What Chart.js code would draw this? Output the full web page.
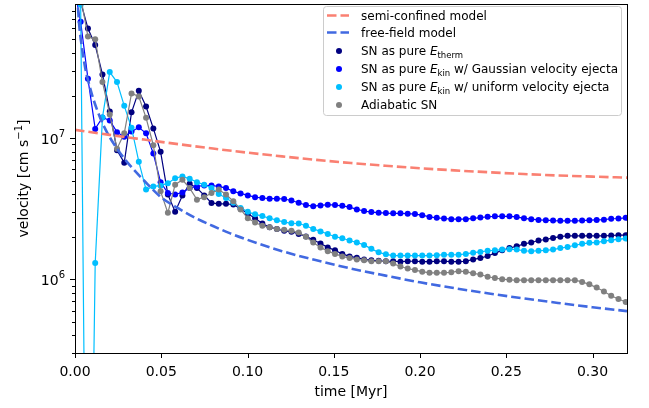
<!DOCTYPE html>
<html>
<head>
<meta charset="utf-8">
<style>
  html, body { margin: 0; padding: 0; background: #fff; }
  canvas { display: block; }
</style>
</head>
<body>
<canvas id="velocityChart" width="649" height="408"></canvas>
<script src="https://cdn.jsdelivr.net/npm/chart.js@4.4.0/dist/chart.umd.min.js"></script>
<script>
// snapshot times [Myr]
const times = [
  -0.00093, 0.00328, 0.00750, 0.01171, 0.01592, 0.02014, 0.02435, 0.02856, 0.03277, 0.03699,
  0.04120, 0.04541, 0.04963, 0.05384, 0.05805, 0.06227, 0.06648, 0.07069, 0.07490, 0.07912,
  0.08333, 0.08754, 0.09176, 0.09597, 0.10018, 0.10440, 0.10861, 0.11282, 0.11703, 0.12125,
  0.12546, 0.12967, 0.13389, 0.13810, 0.14231, 0.14653, 0.15074, 0.15495, 0.15916, 0.16338,
  0.16759, 0.17180, 0.17602, 0.18023, 0.18444, 0.18866, 0.19287, 0.19708, 0.20129, 0.20551,
  0.20972, 0.21393, 0.21815, 0.22236, 0.22657, 0.23079, 0.23500, 0.23921, 0.24342, 0.24764,
  0.25185, 0.25606, 0.26028, 0.26449, 0.26870, 0.27292, 0.27713, 0.28134, 0.28555, 0.28977,
  0.29398, 0.29819, 0.30241, 0.30662, 0.31083, 0.31505, 0.31926
];

// SN as pure E_therm
const thermV = [
  2.5e8, 9.2e7, 5.97e7, 4.56e7, 2.82e7, 1.54e7, 8.2e6, 6.69e6, 1.52e7, 2.16e7,
  1.67e7, 1.17e7, 7.98e6, 3.98e6, 3.0e6, 3.92e6, 4.74e6, 4.42e6, 3.92e6, 3.47e6,
  3.42e6, 3.42e6, 3.38e6, 3.15e6, 2.91e6, 2.70e6, 2.48e6, 2.33e6, 2.27e6, 2.20e6,
  2.17e6, 2.09e6, 2.01e6, 1.90e6, 1.79e6, 1.68e6, 1.60e6, 1.51e6, 1.45e6, 1.42e6,
  1.38e6, 1.36e6, 1.35e6, 1.34e6, 1.34e6, 1.33e6, 1.34e6, 1.34e6, 1.33e6, 1.33e6,
  1.34e6, 1.34e6, 1.33e6, 1.33e6, 1.34e6, 1.38e6, 1.41e6, 1.46e6, 1.53e6, 1.60e6,
  1.66e6, 1.71e6, 1.78e6, 1.82e6, 1.88e6, 1.91e6, 1.96e6, 2.00e6, 2.03e6, 2.03e6,
  2.03e6, 2.03e6, 2.03e6, 2.03e6, 2.04e6, 2.05e6, 2.05e6
];

// SN as pure E_kin, Gaussian velocity ejecta
const gaussV = [
  1.25e8, 6.66e7, 2.63e7, 1.16e7, 1.40e7, 1.33e7, 1.10e7, 1.02e7, 1.11e7, 1.19e7,
  1.08e7, 7.77e6, 4.87e6, 4.08e6, 3.98e6, 4.12e6, 4.42e6, 4.54e6, 4.61e6, 4.61e6,
  4.54e6, 4.42e6, 4.19e6, 4.05e6, 3.92e6, 3.81e6, 3.76e6, 3.72e6, 3.72e6, 3.70e6,
  3.61e6, 3.48e6, 3.35e6, 3.29e6, 3.33e6, 3.37e6, 3.35e6, 3.31e6, 3.24e6, 3.12e6,
  3.04e6, 2.99e6, 2.96e6, 2.94e6, 2.93e6, 2.93e6, 2.91e6, 2.89e6, 2.84e6, 2.76e6,
  2.72e6, 2.69e6, 2.66e6, 2.66e6, 2.66e6, 2.70e6, 2.73e6, 2.77e6, 2.79e6, 2.79e6,
  2.79e6, 2.76e6, 2.70e6, 2.66e6, 2.63e6, 2.62e6, 2.60e6, 2.59e6, 2.59e6, 2.59e6,
  2.60e6, 2.62e6, 2.63e6, 2.64e6, 2.68e6, 2.69e6, 2.72e6
];

// SN as pure E_kin, uniform velocity ejecta
const uniformV = [
  3e8, 8.8e7, 300, 1.3e6, 1.40e7, 2.93e7, 2.49e7, 1.69e7, 1.18e7, 6.80e6,
  4.31e6, 4.54e6, 4.60e6, 4.79e6, 5.19e6, 5.34e6, 5.14e6, 4.87e6, 4.67e6, 4.42e6,
  4.01e6, 3.76e6, 3.48e6, 3.20e6, 3.00e6, 2.88e6, 2.80e6, 2.70e6, 2.62e6, 2.54e6,
  2.49e6, 2.48e6, 2.39e6, 2.27e6, 2.18e6, 2.09e6, 2.00e6, 1.95e6, 1.88e6, 1.82e6,
  1.75e6, 1.64e6, 1.55e6, 1.50e6, 1.47e6, 1.47e6, 1.47e6, 1.47e6, 1.47e6, 1.47e6,
  1.48e6, 1.49e6, 1.49e6, 1.49e6, 1.51e6, 1.54e6, 1.56e6, 1.59e6, 1.60e6, 1.62e6,
  1.63e6, 1.62e6, 1.59e6, 1.58e6, 1.59e6, 1.60e6, 1.62e6, 1.66e6, 1.69e6, 1.74e6,
  1.78e6, 1.81e6, 1.82e6, 1.86e6, 1.89e6, 1.92e6, 1.94e6
];

// Adiabatic SN
const adiabaticV = [
  2.5e8, 1.0e8, 5.23e7, 5.0e7, 2.49e7, 1.47e7, 8.41e6, 1.08e7, 2.07e7, 1.97e7,
  1.39e7, 8.89e6, 4.19e6, 2.95e6, 4.67e6, 5.06e6, 4.42e6, 3.66e6, 3.81e6, 4.08e6,
  4.31e6, 3.98e6, 3.57e6, 3.12e6, 2.70e6, 2.52e6, 2.39e6, 2.33e6, 2.27e6, 2.24e6,
  2.20e6, 2.14e6, 2.00e6, 1.82e6, 1.68e6, 1.58e6, 1.51e6, 1.45e6, 1.41e6, 1.38e6,
  1.36e6, 1.34e6, 1.34e6, 1.34e6, 1.29e6, 1.23e6, 1.19e6, 1.16e6, 1.13e6, 1.11e6,
  1.11e6, 1.11e6, 1.12e6, 1.14e6, 1.13e6, 1.10e6, 1.08e6, 1.04e6, 1.02e6, 1.00e6,
  9.9e5, 9.84e5, 9.84e5, 9.84e5, 9.84e5, 9.84e5, 9.84e5, 9.84e5, 9.84e5, 9.84e5,
  9.57e5, 9.19e5, 8.72e5, 8.18e5, 7.64e5, 7.24e5, 6.89e5
];

// analytic models
const semiT = [0, 0.02, 0.04, 0.06, 0.08, 0.10, 0.12, 0.14, 0.16, 0.18, 0.20, 0.22, 0.24, 0.26, 0.28, 0.30, 0.32];
const semiV = [1.143e7, 1.053e7, 9.75e6, 9.04e6, 8.42e6, 7.88e6, 7.41e6, 7.00e6, 6.65e6, 6.36e6, 6.11e6, 5.90e6, 5.72e6, 5.56e6, 5.43e6, 5.33e6, 5.24e6];
const freeT = [0.001, 0.0015, 0.0025, 0.004, 0.006, 0.008, 0.010, 0.013, 0.016, 0.020, 0.025, 0.030, 0.035, 0.040,
  0.05, 0.06, 0.07, 0.08, 0.09, 0.10, 0.12, 0.14, 0.16, 0.18, 0.20, 0.22, 0.24, 0.26, 0.28, 0.30, 0.32];
const freeV = [1.3e8, 9.5e7, 6.2e7, 4.4e7, 3.1e7, 2.45e7, 2.0e7, 1.56e7, 1.27e7, 1.02e7, 8.2e6, 6.8e6, 5.8e6, 5.0e6,
  3.8e6, 3.17e6, 2.71e6, 2.38e6, 2.11e6, 1.90e6, 1.58e6, 1.36e6, 1.19e6, 1.06e6, 9.5e5, 8.64e5, 7.92e5, 7.31e5, 6.79e5, 6.33e5, 5.94e5];

const xTicks = [0, 0.05, 0.10, 0.15, 0.20, 0.25, 0.30];
const yMajor = [1e6, 1e7];
const yMinor = [3e5, 4e5, 5e5, 6e5, 7e5, 8e5, 9e5, 2e6, 3e6, 4e6, 5e6, 6e6, 7e6, 8e6, 9e6, 2e7, 3e7, 4e7, 5e7, 6e7, 7e7, 8e7];

const FONT = '"DejaVu Sans", sans-serif';
const colors = { semi: '#fa8072', free: '#4169e1', therm: '#000080', gauss: '#0000ff', uniform: '#00bfff', adiabatic: '#808080' };
const DASH = [9.5, 4];

const pts = (xs, ys) => xs.map((x, i) => ({ x, y: ys[i] }));

const simSet = (label, color, ys, order) => ({
  label, data: pts(times, ys), order,
  borderColor: color, backgroundColor: color, borderWidth: 1.2,
  pointRadius: 3, pointBorderWidth: 0, pointBackgroundColor: color,
  tension: 0, clip: 0
});

const modelSet = (label, color, xs, ys, order) => ({
  label, data: pts(xs, ys), order,
  borderColor: color, borderWidth: 2.6, borderDash: DASH, borderCapStyle: 'butt',
  pointRadius: 0, cubicInterpolationMode: 'monotone', clip: 0
});

function drawParts(ctx, parts, x, y) {
  parts.forEach(p => {
    ctx.font = p.font;
    ctx.fillText(p.text, x, y + (p.dy || 0));
    x += ctx.measureText(p.text).width;
  });
  return x;
}

const decorations = {
  id: 'decorations',
  afterDraw(chart) {
    const { ctx, chartArea: a, scales: { x, y } } = chart;
    ctx.save();
    ctx.fillStyle = '#000';
    ctx.strokeStyle = '#000';
    ctx.lineWidth = 1;

    // frame
    ctx.strokeRect(a.left + 0.5, a.top + 0.5, a.right - a.left, a.bottom - a.top);

    // ticks
    ctx.beginPath();
    xTicks.forEach(v => {
      const px = Math.round(x.getPixelForValue(v)) + 0.5;
      ctx.moveTo(px, a.bottom); ctx.lineTo(px, a.bottom + 5);
    });
    yMajor.forEach(v => {
      const py = Math.round(y.getPixelForValue(v)) + 0.5;
      ctx.moveTo(a.left - 5, py); ctx.lineTo(a.left, py);
    });
    yMinor.forEach(v => {
      const py = Math.round(y.getPixelForValue(v)) + 0.5;
      ctx.moveTo(a.left - 3, py); ctx.lineTo(a.left, py);
    });
    ctx.stroke();

    // x tick labels
    ctx.font = '14px ' + FONT;
    ctx.textAlign = 'center';
    ctx.textBaseline = 'alphabetic';
    xTicks.forEach(v => ctx.fillText(v.toFixed(2), x.getPixelForValue(v), 375.5));
    ctx.fillText('time [Myr]', (a.left + a.right) / 2, 395.5);

    // y tick labels 10^n
    ctx.textAlign = 'left';
    yMajor.forEach(v => {
      const py = y.getPixelForValue(v);
      const exp = String(Math.round(Math.log10(v)));
      ctx.font = '14px ' + FONT;
      const w1 = ctx.measureText('10').width;
      ctx.font = '10px ' + FONT;
      const w2 = ctx.measureText(exp).width;
      const x0 = a.left - 10 - w1 - w2;
      ctx.font = '14px ' + FONT;
      ctx.fillText('10', x0, py + 5.5);
      ctx.font = '10px ' + FONT;
      ctx.fillText(exp, x0 + w1, py - 1);
    });

    // y axis title
    ctx.save();
    ctx.translate(28, (a.top + a.bottom) / 2);
    ctx.rotate(-Math.PI / 2);
    const yParts = [
      { text: 'velocity [cm s', font: '14px ' + FONT },
      { text: '\u22121', font: '10px ' + FONT, dy: -6 },
      { text: ']', font: '14px ' + FONT }
    ];
    let total = 0;
    yParts.forEach(p => { ctx.font = p.font; total += ctx.measureText(p.text).width; });
    drawParts(ctx, yParts, -total / 2, 0);
    ctx.restore();

    // legend
    ctx.beginPath();
    ctx.roundRect(323.5, 6.5, 298, 109, 3);
    ctx.fillStyle = 'rgba(255,255,255,0.8)';
    ctx.fill();
    ctx.strokeStyle = '#cccccc';
    ctx.stroke();

    const F = '12px ' + FONT;
    const FI = 'italic 12px ' + FONT;
    const FS = '8.5px ' + FONT;
    const rows = [
      { y: 15.5, color: colors.semi, dash: true, parts: [{ text: 'semi-confined model', font: F }] },
      { y: 32.5, color: colors.free, dash: true, parts: [{ text: 'free-field model', font: F }] },
      { y: 51, color: colors.therm, parts: [{ text: 'SN as pure ', font: F }, { text: 'E', font: FI }, { text: 'therm', font: FS, dy: 2.5 }] },
      { y: 69, color: colors.gauss, parts: [{ text: 'SN as pure ', font: F }, { text: 'E', font: FI }, { text: 'kin', font: FS, dy: 2.5 }, { text: ' w/ Gaussian velocity ejecta', font: F }] },
      { y: 87, color: colors.uniform, parts: [{ text: 'SN as pure ', font: F }, { text: 'E', font: FI }, { text: 'kin', font: FS, dy: 2.5 }, { text: ' w/ uniform velocity ejecta', font: F }] },
      { y: 105, color: colors.adiabatic, parts: [{ text: 'Adiabatic SN', font: F }] }
    ];
    rows.forEach(r => {
      if (r.dash) {
        ctx.save();
        ctx.strokeStyle = r.color;
        ctx.lineWidth = 2.6;
        ctx.setLineDash(DASH);
        ctx.beginPath();
        ctx.moveTo(327, r.y); ctx.lineTo(349, r.y);
        ctx.stroke();
        ctx.restore();
      } else {
        ctx.fillStyle = r.color;
        ctx.beginPath();
        ctx.arc(339, r.y, 3, 0, Math.PI * 2);
        ctx.fill();
      }
      ctx.fillStyle = '#000';
      drawParts(ctx, r.parts, 361, r.y + 4.3);
    });
    ctx.restore();
  }
};

new Chart(document.getElementById('velocityChart'), {
  type: 'line',
  data: {
    datasets: [
      modelSet('semi-confined model', colors.semi, semiT, semiV, 0),
      modelSet('free-field model', colors.free, freeT, freeV, 1),
      simSet('Adiabatic SN', colors.adiabatic, adiabaticV, 2),
      simSet('SN as pure E_kin w/ uniform velocity ejecta', colors.uniform, uniformV, 3),
      simSet('SN as pure E_kin w/ Gaussian velocity ejecta', colors.gauss, gaussV, 4),
      simSet('SN as pure E_therm', colors.therm, thermV, 5)
    ]
  },
  options: {
    responsive: false,
    animation: false,
    devicePixelRatio: 1,
    layout: { padding: { left: 0, right: 22, top: 0, bottom: 0 } },
    plugins: { legend: { display: false }, tooltip: { enabled: false } },
    scales: {
      x: {
        type: 'linear', min: 0, max: 0.32,
        ticks: { display: false },
        grid: { display: false, drawTicks: false },
        border: { display: false },
        afterFit: s => { s.height = 55; }
      },
      y: {
        type: 'logarithmic', min: 3e5, max: 8.9e7,
        ticks: { display: false },
        grid: { display: false, drawTicks: false },
        border: { display: false },
        afterFit: s => { s.width = 75; }
      }
    }
  },
  plugins: [decorations]
});
</script>
</body>
</html>
